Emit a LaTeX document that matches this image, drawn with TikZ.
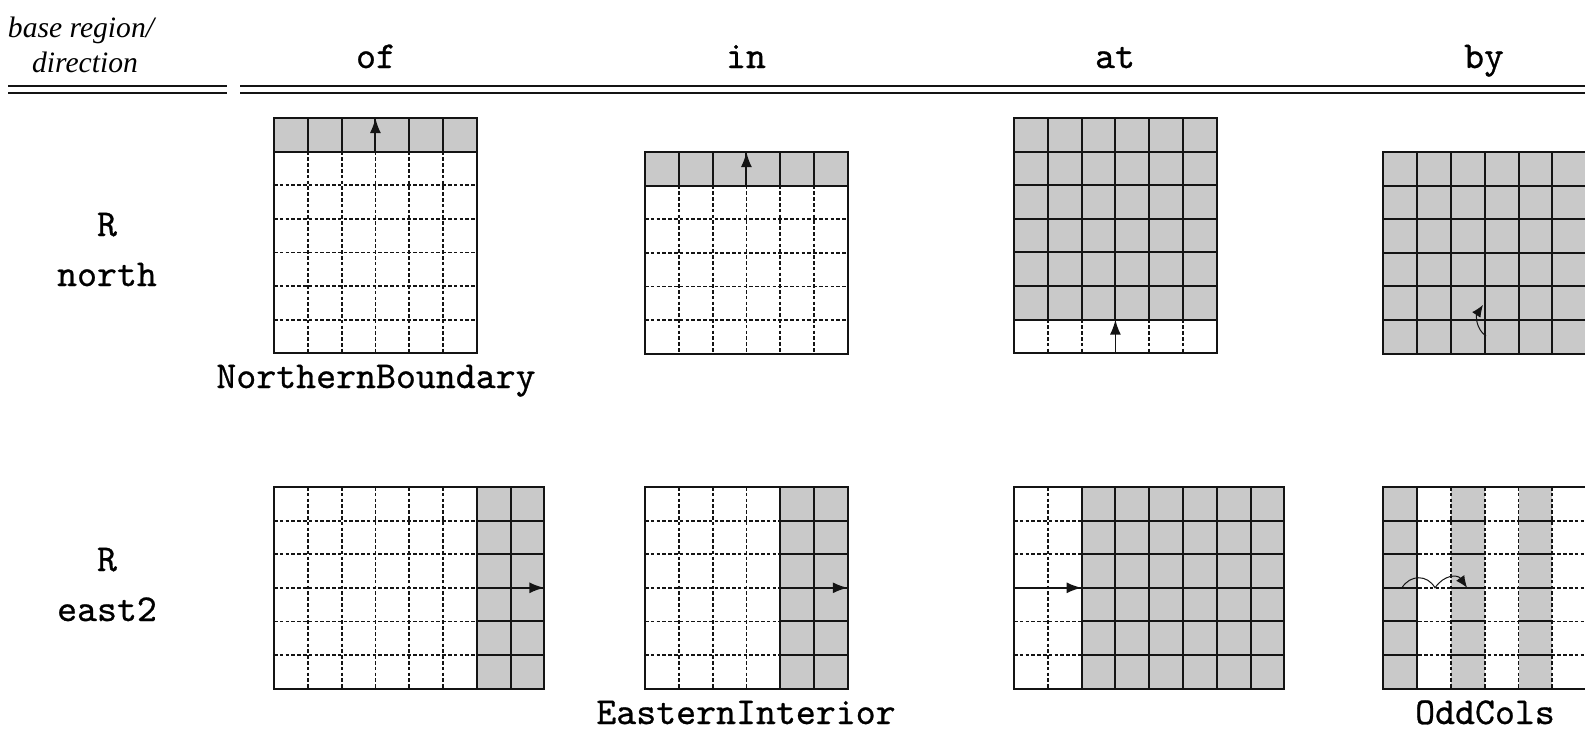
\documentclass[tikz,border=0pt]{standalone}
\usepackage{fontspec}
\setmainfont{Liberation Serif}
\newfontfamily\courfont{lmmono10-regular.otf}[FakeBold=0.7]
\usetikzlibrary{arrows.meta,positioning}
\definecolor{ink}{RGB}{20,20,20}
\definecolor{cellgray}{RGB}{201,201,201}
\tikzset{
  cellunits/.style={x=16.9pt,y=-16.8pt},
  cellbox/.style={draw=ink,line width=1pt},
  shade/.style={fill=cellgray},
  dotline/.style={ink,line width=0.9pt,dash pattern=on 1.8pt off 1.1pt},
  arr/.style={-{Latex[length=7.5pt,width=5.5pt]},line width=0.9pt,ink},
  thinarr/.style={-{Latex[length=6pt,width=5pt]},line width=0.5pt,ink},
  code/.style={font=\courfont\fontsize{19}{22}\selectfont,inner sep=0pt,anchor=base},
  hdr/.style={font=\itshape\fontsize{14.8}{17}\selectfont,inner sep=0pt},
  rule/.style={line width=0.9pt,ink},
}

\begin{document}
\begin{tikzpicture}[x=0.5pt,y=-0.5pt]
\useasboundingbox (0,0) rectangle (1585,730);
% header
\node[hdr] (hbase) at (81,30) {base region/};
\node[hdr] (hdir) at (85,62) {direction};
\foreach \x/\w in {376/of,746/in,1115/at,1484/by}{
  \node[code] (h\w) at (\x,68) {\w};
}
\foreach \y in {86,93}{
  \draw[rule] (8,\y) -- (227,\y);
  \draw[rule] (240,\y) -- (1585,\y);
}
% row labels
\node[code] (rnorth) at (107,236) {R};
\node[code] (dnorth) at (107,286) {north};
\node[code] (reast) at (107,571) {R};
\node[code] (deast) at (107,621) {east2};

% of / north
\begin{scope}[shift={(274,118)},cellunits]
  \foreach \c in {1,...,5} \draw[dotline] (\c,1) -- (\c,7);
  \foreach \r in {2,...,6} \draw[dotline] (0,\r) -- (6,\r);
  \foreach \c in {0,...,5} \draw[cellbox,shade] (\c,0) rectangle ++(1,1);
  \draw[cellbox] (0,0) rectangle (6,7);
  \coordinate (ofnS) at (3,1); \coordinate (ofnT) at (3,0);
  \draw[arr] (ofnS) -- (ofnT);
\end{scope}
\node[code] (nbound) at (376,388) {NorthernBoundary};

% in / north
\begin{scope}[shift={(645,152)},cellunits]
  \foreach \c in {1,...,5} \draw[dotline] (\c,1) -- (\c,6);
  \foreach \r in {2,...,5} \draw[dotline] (0,\r) -- (6,\r);
  \foreach \c in {0,...,5} \draw[cellbox,shade] (\c,0) rectangle ++(1,1);
  \draw[cellbox] (0,0) rectangle (6,6);
  \coordinate (innS) at (3,1); \coordinate (innT) at (3,0);
  \draw[arr] (innS) -- (innT);
\end{scope}

% at / north
\begin{scope}[shift={(1014,118)},cellunits]
  \foreach \c in {1,...,5} \draw[dotline] (\c,6) -- (\c,7);
  \foreach \c in {0,...,5}
    \foreach \r in {0,...,5} \draw[cellbox,shade] (\c,\r) rectangle ++(1,1);
  \draw[cellbox] (0,0) rectangle (6,7);
  \coordinate (atnS) at (3,7); \coordinate (atnT) at (3,6);
  \draw[arr] (atnS) -- (atnT);
\end{scope}

% by / north
\begin{scope}[shift={(1383.3,152)},cellunits]
  \foreach \c in {0,...,5}
    \foreach \r in {0,...,5} \draw[cellbox,shade] (\c,\r) rectangle ++(1,1);
  \coordinate (bynS) at (3.04,5.48); \coordinate (bynT) at (2.95,4.55);
  \draw[thinarr] (bynS) .. controls (2.72,5.25) and (2.75,4.85) .. (bynT);
\end{scope}

% of / east2
\begin{scope}[shift={(274,487)},cellunits]
  \foreach \c in {1,...,5} \draw[dotline] (\c,0) -- (\c,6);
  \foreach \r in {1,...,5} \draw[dotline] (0,\r) -- (6,\r);
  \foreach \c in {6,7}
    \foreach \r in {0,...,5} \draw[cellbox,shade] (\c,\r) rectangle ++(1,1);
  \draw[cellbox] (0,0) rectangle (8,6);
  \coordinate (ofeS) at (6,3); \coordinate (ofeT) at (8,3);
  \draw[arr] (ofeS) -- (ofeT);
\end{scope}

% in / east2
\begin{scope}[shift={(645,487)},cellunits]
  \foreach \c in {1,...,3} \draw[dotline] (\c,0) -- (\c,6);
  \foreach \r in {1,...,5} \draw[dotline] (0,\r) -- (4,\r);
  \foreach \c in {4,5}
    \foreach \r in {0,...,5} \draw[cellbox,shade] (\c,\r) rectangle ++(1,1);
  \draw[cellbox] (0,0) rectangle (6,6);
  \coordinate (ineS) at (4,3); \coordinate (ineT) at (6,3);
  \draw[arr] (ineS) -- (ineT);
\end{scope}
\node[code] (einter) at (746,724) {EasternInterior};

% at / east2
\begin{scope}[shift={(1014,487)},cellunits]
  \draw[dotline] (1,0) -- (1,6);
  \foreach \r in {1,...,5} \draw[dotline] (0,\r) -- (2,\r);
  \foreach \c in {2,...,7}
    \foreach \r in {0,...,5} \draw[cellbox,shade] (\c,\r) rectangle ++(1,1);
  \draw[cellbox] (0,0) rectangle (8,6);
  \coordinate (ateS) at (0,3); \coordinate (ateT) at (2,3);
  \draw[arr] (ateS) -- (ateT);
\end{scope}

% by / east2
\begin{scope}[shift={(1383.3,487)},cellunits]
  \foreach \c in {0,2,4} \fill[shade] (\c,0) rectangle ++(1,6);
  \foreach \c in {2,...,5} \draw[dotline] (\c,0) -- (\c,6);
  \foreach \r in {1,...,5} \draw[dotline] (0,\r) -- (6,\r);
  \foreach \c in {0,2,4}
    \foreach \r in {1,...,5} \draw[cellbox] (\c,\r) -- ++(1,0);
  \draw[cellbox] (1,0) -- (1,6);
  \draw[cellbox] (0,0) rectangle (6,6);
  \coordinate (byeS) at (0.55,3); \coordinate (byeM) at (1.53,3);
  \coordinate (byeT) at (2.48,3);
  \draw[thinarr] (byeS) .. controls (0.8,2.6) and (1.3,2.6) .. (byeM)
    .. controls (1.8,2.6) and (2.2,2.6) .. (byeT);
\end{scope}
\node[code] (oddcols) at (1485,724) {OddCols};
\end{tikzpicture}
\end{document}
